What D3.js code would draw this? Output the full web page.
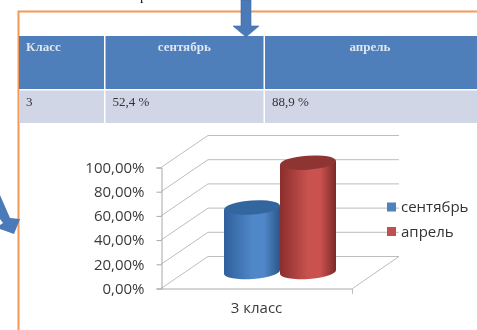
<!DOCTYPE html>
<html><head><meta charset="utf-8">
<script src="https://cdnjs.cloudflare.com/ajax/libs/d3/7.8.5/d3.min.js"></script>
<style>html,body{margin:0;padding:0;background:#fff;overflow:hidden}svg{display:block;filter:blur(.4px)}</style>
</head><body><svg id="c" width="477" height="330"></svg>
<script>
const category = "3 класс";
const seriesNames = ["сентябрь", "апрель"];
const seriesValues = [52.4, 88.9];
const tickValues = [0, 20, 40, 60, 80, 100];
const tickLabels = ["0,00%", "20,00%", "40,00%", "60,00%", "80,00%", "100,00%"];
const tableHeader = ["Класс", "сентябрь", "апрель"];
const tableRow = ["3", "52,4 %", "88,9 %"];
const seriesFill = [["#2f5f9c", "#4f87c8", "#2c5688", "#33659f"], ["#8a2e2c", "#c9524f", "#7c2a28", "#8e3533"]];

const svg = d3.select("#c");
const defs = svg.append("defs");
const depth = {x: 47, y: -32};

// frame
svg.append("path").attr("d", "M18.5,330V11.5H477").attr("fill", "none").attr("stroke", "#f29a55").attr("stroke-width", 2);
svg.append("text").attr("x", 140).attr("y", 0).attr("font-family", "Liberation Serif").attr("font-size", 14).attr("fill", "#111").text("р");

// table
const colX = d3.scaleOrdinal().domain([0, 1, 2, 3]).range([19, 105.5, 265, 477]);
const rows = [{y: 36, h: 53, fill: "#4f7fba", vals: tableHeader, color: "#dfe6f1", weight: "bold"},
              {y: 90.5, h: 32.5, fill: "#d0d6e5", vals: tableRow, color: "#333", weight: "normal"}];
rows.forEach(r => {
  r.vals.forEach((v, i) => {
    const x0 = colX(i), x1 = colX(i + 1);
    svg.append("rect").attr("x", x0).attr("y", r.y).attr("width", x1 - x0 - (i < 2 ? 1.5 : 0)).attr("height", r.h).attr("fill", r.fill);
    const head = r.weight === "bold" && i > 0;
    svg.append("text").attr("x", head ? (x0 + x1) / 2 - 1 : x0 + 7).attr("y", r.y + (r.weight === "bold" ? 15 : 15.5))
      .attr("text-anchor", head ? "middle" : "start").attr("font-family", "Liberation Serif").attr("font-size", 13)
      .attr("font-weight", r.weight).attr("fill", r.color).text(v);
  });
});

// arrows
svg.append("path").attr("d", "M241,0H251V26H259L246,37L233,26H241Z").attr("fill", "#4a7ab8").attr("stroke", "#3f6a9f").attr("stroke-width", .6);
svg.append("path").attr("d", "M0,195L10,218L20,219L14,234L0,229L0,225L3,223L0,219Z").attr("fill", "#4a7ab8");

// chart
const y = d3.scaleLinear().domain([0, 100]).range([288, 167]);
const x = d3.scaleBand().domain([category]).range([161, 352]);
const grid = svg.append("g").attr("fill", "none").attr("stroke", "#bdbdbd").attr("stroke-width", 1);
tickValues.forEach(t => {
  const yy = y(t) + .5;
  grid.append("path").attr("d", `M161,${yy}L${161 + depth.x},${yy + depth.y}H399`);
});
const ax = svg.append("g").attr("transform", "translate(161.5,.5)")
  .call(d3.axisLeft(y).tickValues(tickValues).tickSize(5).tickPadding(12).tickFormat((d, i) => tickLabels[i]));
ax.select(".domain").attr("stroke", "#a8a8a8");
ax.selectAll("line").attr("stroke", "#a8a8a8");
ax.selectAll("text").attr("font-family", "Open Sans").attr("font-size", 15).attr("fill", "#3a3a3a");
const bx = svg.append("g").attr("transform", "translate(0,288.5)")
  .call(d3.axisBottom(x).tickSize(0).tickPadding(14));
bx.select(".domain").attr("stroke", "#a8a8a8");
bx.selectAll("text").attr("font-family", "Open Sans").attr("font-size", 15).attr("fill", "#3a3a3a");
svg.append("path").attr("d", `M352.5,294V288.5L399,${288.5 + depth.y}`).attr("fill", "none").attr("stroke", "#bdbdbd");

// cylinders
const vy = d3.scaleLinear().domain([0, 100]).range([272, 149]);
const cx = d3.scaleBand().domain(seriesNames).range([224, 336]).padding(0);
seriesNames.forEach((name, i) => {
  const id = "g" + i;
  const g = defs.append("linearGradient").attr("id", id);
  [[0, seriesFill[i][0]], [.5, seriesFill[i][1]], [.72, seriesFill[i][1]], [1, seriesFill[i][2]]]
    .forEach(s => g.append("stop").attr("offset", s[0]).attr("stop-color", s[1]));
  const x0 = cx(name), w = cx.bandwidth(), rx = w / 2, ry = 7, mid = x0 + rx;
  const top = vy(seriesValues[i]), base = vy(0);
  const dy = 2;
  svg.append("path").attr("fill", `url(#${id})`)
    .attr("d", `M${x0},${top + dy}L${x0},${base + dy}A${rx},${ry} -4 0 0 ${x0 + w},${base - dy}L${x0 + w},${top - dy}Z`);
  svg.append("ellipse").attr("cx", mid).attr("cy", top).attr("rx", rx).attr("ry", ry)
    .attr("transform", `rotate(-4 ${mid} ${top})`).attr("fill", seriesFill[i][3]);
});

// legend
seriesNames.forEach((name, i) => {
  const ly = 207 + i * 24.5;
  svg.append("rect").attr("x", 387).attr("y", ly - 4.5).attr("width", 9).attr("height", 9).attr("fill", i ? "#c0504d" : "#4f81bd");
  svg.append("text").attr("x", 401).attr("y", ly + 5).attr("font-family", "Open Sans").attr("font-size", 15).attr("fill", "#333").text(name);
});
</script></body></html>
